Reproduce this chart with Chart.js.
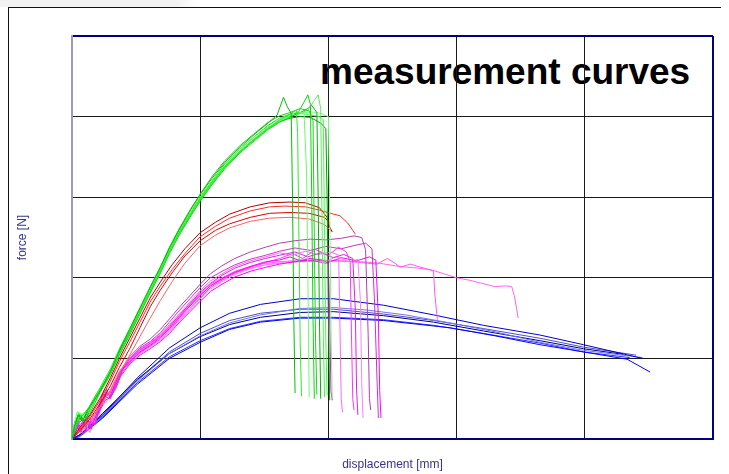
<!DOCTYPE html>
<html><head><meta charset="utf-8">
<script src="https://cdn.jsdelivr.net/npm/chart.js@4"></script>
<style>
html,body{margin:0;padding:0;background:#fff;}
#wrap{position:relative;width:729px;height:474px;overflow:hidden;background:#fff;}
#strip{position:absolute;left:0;top:0;width:200px;height:7px;background:linear-gradient(to right,#f2f2f2 88%,#fff);}
#frameTop{position:absolute;left:8px;top:7px;width:713px;height:1px;background:#111;}
#frameLeft{position:absolute;left:8px;top:7px;width:1px;height:467px;background:#111;}
#title{position:absolute;left:320px;top:53px;font:bold 37px "Liberation Sans",Arial,sans-serif;line-height:37px;color:#000;white-space:nowrap;}
canvas{position:absolute;left:0;top:0;}
</style></head>
<body>
<div id="wrap">
<div id="strip"></div>
<div id="frameTop"></div>
<div id="frameLeft"></div>
<div id="title">measurement curves</div>
<canvas id="c" width="729" height="474"></canvas>
</div>
<script>
// axis ranges / grid steps (no tick labels shown)
const xTicks = [0, 1, 2, 3, 4, 5];
const yTicks = [0, 100, 200, 300, 400, 500];
const xTitle = 'displacement [mm]';
const yTitle = 'force [N]';

// green series
const g1 = [[0,0],[0.02,16],[0.05,30],[0.08,22],[0.12,35],[0.22,60],[0.30,84],[0.37,110],[0.45,136],[0.53,162],[0.61,188],[0.69,213],[0.76,237],[0.84,261],[0.92,283],[1.00,303],[1.09,323],[1.19,343],[1.31,362],[1.43,379],[1.53,392],[1.60,402],[1.65,424],[1.68,412],[1.71,404],[1.72,300],[1.73,150],[1.74,57]];
const g2 = [[0,0],[0.03,22],[0.06,28],[0.09,30],[0.13,37],[0.22,62],[0.30,82],[0.37,106],[0.45,131],[0.53,157],[0.61,183],[0.69,208],[0.76,232],[0.84,256],[0.92,277],[1.00,297],[1.09,317],[1.19,337],[1.31,356],[1.43,372],[1.53,385],[1.62,396],[1.70,403],[1.75,408],[1.76,380],[1.77,250],[1.78,120],[1.79,53]];
const g3 = [[0,0],[0.02,20],[0.04,34],[0.09,28],[0.14,38],[0.22,63],[0.30,86],[0.37,111],[0.45,135],[0.53,160],[0.61,186],[0.69,211],[0.76,235],[0.84,259],[0.92,280],[1.00,300],[1.09,320],[1.19,340],[1.31,360],[1.43,376],[1.53,388],[1.62,398],[1.70,402],[1.76,406],[1.81,404],[1.83,330],[1.84,200],[1.85,52]];
const g4 = [[0,0],[0.03,14],[0.06,26],[0.10,24],[0.14,32],[0.22,58],[0.30,80],[0.37,104],[0.45,129],[0.53,155],[0.61,181],[0.69,206],[0.76,230],[0.84,254],[0.92,275],[1.00,295],[1.09,315],[1.19,335],[1.31,355],[1.43,371],[1.53,384],[1.62,393],[1.70,399],[1.76,404],[1.81,418],[1.84,427],[1.86,415],[1.87,300],[1.88,150],[1.89,50]];
const g5 = [[0,0],[0.02,18],[0.05,32],[0.08,28],[0.13,39],[0.22,64],[0.30,87],[0.37,112],[0.45,137],[0.53,163],[0.61,189],[0.69,214],[0.76,238],[0.84,262],[0.92,284],[1.00,304],[1.09,325],[1.19,345],[1.31,364],[1.43,380],[1.53,393],[1.62,401],[1.70,405],[1.78,410],[1.85,407],[1.88,395],[1.89,250],[1.90,120],[1.91,55]];
const g6 = [[0,0],[0.03,20],[0.05,27],[0.09,32],[0.13,34],[0.22,59],[0.30,81],[0.37,106],[0.45,130],[0.53,156],[0.61,182],[0.69,207],[0.76,231],[0.84,255],[0.92,276],[1.00,296],[1.09,316],[1.19,336],[1.31,356],[1.43,372],[1.53,385],[1.62,394],[1.70,400],[1.78,404],[1.84,408],[1.89,420],[1.92,427],[1.94,410],[1.95,280],[1.96,130],[1.97,52]];
const g7 = [[0,0],[0.02,15],[0.06,30],[0.10,22],[0.14,36],[0.22,61],[0.30,85],[0.37,109],[0.45,134],[0.53,160],[0.61,186],[0.69,211],[0.76,235],[0.84,259],[0.92,280],[1.00,300],[1.09,320],[1.19,341],[1.31,360],[1.43,376],[1.53,389],[1.62,398],[1.70,403],[1.78,405],[1.84,410],[1.87,414],[1.91,405],[1.92,300],[1.93,150],[1.94,50]];
const g8 = [[0,0],[0.03,18],[0.05,24],[0.09,30],[0.13,38],[0.22,62],[0.30,84],[0.37,107],[0.45,132],[0.53,158],[0.61,184],[0.69,209],[0.76,233],[0.84,257],[0.92,278],[1.00,298],[1.09,318],[1.19,338],[1.31,357],[1.43,373],[1.53,386],[1.62,395],[1.70,401],[1.78,404],[1.86,402],[1.93,400],[1.96,396],[1.97,250],[1.98,120],[1.99,54]];
const g9 = [[0,0],[0.02,21],[0.05,29],[0.09,25],[0.13,35],[0.22,60],[0.30,82],[0.37,107],[0.45,132],[0.53,158],[0.61,184],[0.69,209],[0.76,233],[0.84,257],[0.92,278],[1.00,298],[1.09,318],[1.19,338],[1.31,357],[1.43,373],[1.53,386],[1.62,394],[1.70,398],[1.78,400],[1.86,399],[1.94,392],[1.98,385],[1.99,300],[2.00,150],[2.01,48]];
const g10 = [[0,0],[0.03,16],[0.06,33],[0.10,27],[0.13,36],[0.22,61],[0.30,83],[0.37,108],[0.45,133],[0.53,159],[0.61,185],[0.69,210],[0.76,234],[0.84,258],[0.92,279],[1.00,299],[1.09,319],[1.19,339],[1.31,358],[1.43,374],[1.53,387],[1.62,396],[1.70,401],[1.78,404],[1.86,406],[1.94,404],[2.00,400],[2.01,290],[2.02,140],[2.03,50]];

// red series
const r1 = [[0,0],[0.06,14],[0.14,30],[0.22,51],[0.30,76],[0.37,100],[0.45,125],[0.53,150],[0.61,175],[0.69,195],[0.78,216],[0.88,236],[1.00,256],[1.12,269],[1.23,279],[1.39,288],[1.54,293],[1.70,294],[1.82,293],[1.93,287],[1.99,275],[2.01,263],[2.03,257]];
const r2 = [[0,0],[0.06,12],[0.14,28],[0.22,48],[0.30,72],[0.37,96],[0.45,120],[0.53,145],[0.61,170],[0.69,190],[0.78,210],[0.88,230],[1.00,251],[1.12,264],[1.23,274],[1.39,283],[1.54,288],[1.66,289],[1.82,288],[1.93,284],[2.04,279],[2.09,277],[2.15,268],[2.19,259],[2.21,254]];
const r3 = [[0,0],[0.06,10],[0.14,25],[0.22,44],[0.30,66],[0.37,89],[0.45,112],[0.53,138],[0.61,164],[0.69,185],[0.78,206],[0.88,227],[1.00,246],[1.12,259],[1.23,267],[1.39,275],[1.54,280],[1.70,281],[1.85,280],[1.97,275],[2.01,268]];
const r4 = [[0,0],[0.06,9],[0.14,22],[0.22,40],[0.30,60],[0.37,82],[0.45,104],[0.53,127],[0.61,150],[0.69,172],[0.78,195],[0.88,218],[1.00,240],[1.12,253],[1.23,262],[1.39,270],[1.54,274],[1.70,275],[1.85,273],[1.97,266],[2.03,257]];

// magenta series
const m1 = [[0,0],[0.03,18],[0.07,8],[0.11,28],[0.15,14],[0.20,34],[0.24,55],[0.29,50],[0.33,66],[0.37,82],[0.45,96],[0.53,108],[0.61,116],[0.69,126],[0.76,137],[0.84,151],[0.92,165],[1.00,178],[1.08,190],[1.17,199],[1.27,207],[1.39,214],[1.51,220],[1.62,222],[1.70,226],[1.78,221],[1.86,224],[1.95,222],[2.00,218],[2.01,150],[2.02,60],[2.03,48]];
const m2 = [[0,0],[0.04,24],[0.08,14],[0.12,30],[0.17,20],[0.21,40],[0.25,60],[0.30,56],[0.34,70],[0.38,86],[0.45,100],[0.53,112],[0.61,120],[0.69,130],[0.76,142],[0.84,156],[0.92,170],[1.00,184],[1.08,196],[1.17,205],[1.27,214],[1.39,221],[1.51,226],[1.62,231],[1.72,228],[1.82,233],[1.92,229],[2.02,232],[2.08,228],[2.09,140],[2.10,50],[2.11,33]];
const m3 = [[0,0],[0.05,15],[0.10,25],[0.15,12],[0.20,30],[0.25,50],[0.27,62],[0.30,50],[0.35,70],[0.40,88],[0.45,102],[0.53,115],[0.61,124],[0.69,136],[0.76,149],[0.84,164],[0.92,178],[1.00,192],[1.08,205],[1.17,215],[1.27,224],[1.39,232],[1.51,238],[1.62,243],[1.74,246],[1.86,248],[1.98,247],[2.10,249],[2.20,252],[2.26,250],[2.29,235],[2.31,130],[2.32,50],[2.33,36]];
const m4 = [[0,0],[0.03,12],[0.07,26],[0.12,10],[0.16,24],[0.21,30],[0.25,52],[0.30,60],[0.34,64],[0.38,80],[0.45,95],[0.53,107],[0.61,115],[0.69,124],[0.76,135],[0.84,149],[0.92,162],[1.00,175],[1.08,188],[1.17,197],[1.27,206],[1.39,213],[1.51,219],[1.62,224],[1.72,230],[1.80,224],[1.90,235],[2.00,228],[2.08,238],[2.14,232],[2.17,220],[2.18,130],[2.19,50],[2.20,36]];
const m5 = [[0,0],[0.04,20],[0.09,6],[0.13,22],[0.18,18],[0.22,44],[0.26,54],[0.31,58],[0.35,72],[0.39,88],[0.45,99],[0.53,111],[0.61,119],[0.69,129],[0.76,140],[0.84,154],[0.92,168],[1.00,182],[1.08,193],[1.17,203],[1.27,212],[1.39,219],[1.51,224],[1.62,228],[1.74,232],[1.84,226],[1.94,231],[2.04,225],[2.12,229],[2.19,224],[2.21,160],[2.22,60],[2.23,30]];
const m6 = [[0,0],[0.05,10],[0.09,22],[0.14,8],[0.18,28],[0.23,42],[0.27,46],[0.31,62],[0.36,78],[0.41,90],[0.45,94],[0.53,105],[0.61,113],[0.69,122],[0.76,133],[0.84,147],[0.92,160],[1.00,174],[1.08,186],[1.17,195],[1.27,204],[1.39,211],[1.51,216],[1.62,219],[1.74,222],[1.86,224],[1.96,219],[2.06,226],[2.16,220],[2.23,223],[2.25,170],[2.26,70],[2.27,26]];
const m7 = [[0,0],[0.03,16],[0.08,24],[0.12,14],[0.17,30],[0.21,38],[0.26,57],[0.31,55],[0.35,68],[0.39,84],[0.45,100],[0.53,113],[0.61,121],[0.69,132],[0.76,145],[0.84,160],[0.92,174],[1.00,188],[1.08,200],[1.17,208],[1.27,216],[1.39,223],[1.51,228],[1.62,233],[1.74,237],[1.86,234],[1.98,239],[2.10,236],[2.20,240],[2.29,243],[2.34,236],[2.36,170],[2.38,70],[2.39,26]];
const m8 = [[0,0],[0.04,14],[0.08,20],[0.13,12],[0.17,26],[0.22,36],[0.26,48],[0.30,52],[0.34,62],[0.38,78],[0.45,93],[0.53,104],[0.61,112],[0.69,121],[0.76,131],[0.84,145],[0.92,158],[1.00,171],[1.08,183],[1.17,192],[1.27,201],[1.39,208],[1.51,213],[1.62,217],[1.74,220],[1.86,222],[1.98,218],[2.10,225],[2.22,221],[2.32,226],[2.37,222],[2.39,150],[2.40,60],[2.41,26]];
const m9 = [[0,0],[0.04,22],[0.08,12],[0.12,24],[0.16,18],[0.20,38],[0.24,56],[0.28,54],[0.32,68],[0.37,84],[0.45,98],[0.53,110],[0.61,118],[0.69,128],[0.76,139],[0.84,153],[0.92,167],[1.00,180],[1.08,192],[1.17,200],[1.27,208],[1.39,214],[1.51,218],[1.62,220],[1.78,221],[1.95,222],[2.10,221],[2.25,219],[2.38,217],[2.46,224],[2.52,218],[2.56,213],[2.64,217],[2.70,214],[2.79,210],[2.82,208],[2.83,180],[2.85,148]];
const m10 = [[0,0],[0.05,18],[0.09,10],[0.13,26],[0.18,20],[0.22,40],[0.26,52],[0.30,58],[0.34,70],[0.38,84],[0.45,97],[0.53,109],[0.61,117],[0.69,127],[0.76,138],[0.84,152],[0.92,166],[1.00,179],[1.08,190],[1.17,198],[1.27,206],[1.39,212],[1.51,216],[1.62,218],[1.78,220],[2.01,221],[2.25,220],[2.40,218],[2.56,214],[2.70,212],[2.80,210],[2.92,204],[3.00,200],[3.10,197],[3.20,193],[3.30,189],[3.38,190],[3.43,189],[3.45,178],[3.47,160],[3.48,150]];

// blue series
const b1 = [[0,0],[0.06,5],[0.24,30],[0.51,76],[0.76,113],[1.00,138],[1.23,156],[1.47,167],[1.78,174],[2.04,174],[2.43,166],[2.82,154],[3.21,141],[3.65,129],[3.99,117],[4.45,100]];
const b2 = [[0,0],[0.06,4],[0.24,28],[0.51,72],[0.76,106],[1.00,128],[1.23,144],[1.47,154],[1.78,162],[2.04,163],[2.30,160],[2.60,154],[2.95,144],[3.30,133],[3.65,120],[3.99,110],[4.45,101]];
const b3 = [[0,0],[0.07,6],[0.24,32],[0.51,74],[0.76,106],[1.00,127],[1.23,142],[1.47,151],[1.78,157],[2.04,158],[2.43,153],[2.82,145],[3.21,134],[3.65,122],[3.99,112],[4.30,105]];
const b4 = [[0,0],[0.06,3],[0.24,26],[0.51,68],[0.76,100],[1.00,120],[1.23,136],[1.47,145],[1.78,150],[2.04,150],[2.43,147],[2.95,138],[3.30,128],[3.65,117],[3.99,108],[4.33,99],[4.51,83]];
const b5 = [[0,0],[0.05,4],[0.24,27],[0.51,70],[0.76,102],[1.00,122],[1.23,137],[1.47,146],[1.78,151],[2.04,151],[2.43,148],[2.82,141],[3.21,131],[3.65,119],[3.99,108],[4.35,101]];
const b6 = [[0,0],[0.06,5],[0.24,29],[0.51,73],[0.76,108],[1.00,131],[1.23,147],[1.47,156],[1.78,161],[2.04,161],[2.43,155],[2.82,147],[3.21,137],[3.65,125],[3.99,114],[4.40,104]];

const greens = [g1,g2,g3,g4,g5,g6,g7,g8,g9,g10];
const greenColors = ['#00c000','#33e633','#66ff66','#00dd00','#22cc22','#55ee55','#00b400','#40ff40','#009900','#7cfc7c'];
const reds = [r1,r2,r3,r4];
const redColors = ['#b40000','#ff2a2a','#e00000','#ff6060'];
const magentas = [m1,m2,m3,m4,m5,m6,m7,m8,m9,m10];
const magentaColors = ['#ff00ff','#ff66ff','#b040b0','#ff33ff','#e020e0','#ff80ff','#cc33cc','#ff00ff','#ff55ff','#ff66ee'];
const blues = [b1,b2,b3,b4,b5,b6];
const blueColors = ['#0000cc','#7070ff','#000080','#0000ff','#3030ff','#5050c0'];

const mk = (arr, color) => ({
  data: arr.map(p => ({x: p[0], y: p[1]})),
  borderColor: color, borderWidth: 1, pointRadius: 0, fill: false, tension: 0
});
const datasets = [];
greens.forEach((a,i) => datasets.push(mk(a, greenColors[i])));
reds.forEach((a,i) => datasets.push(mk(a, redColors[i])));
magentas.forEach((a,i) => datasets.push(mk(a, magentaColors[i])));
blues.forEach((a,i) => datasets.push(mk(a, blueColors[i])));

const font = {family: '"Liberation Sans", Arial, sans-serif', size: 12};
const last = xTicks.length - 1;

new Chart(document.getElementById('c'), {
  type: 'line',
  data: {datasets},
  options: {
    responsive: false, animation: false,
    layout: {padding: {left: 0, top: 36, right: 16, bottom: 0}},
    plugins: {legend: {display: false}, tooltip: {enabled: false}},
    scales: {
      x: {
        type: 'linear', min: xTicks[0], max: xTicks[last],
        afterBuildTicks: s => { s.ticks = xTicks.map(v => ({value: v})); },
        ticks: {display: false},
        grid: {drawTicks: false,
          color: c => c.index === 0 ? '#9999cc' : (c.index === last ? '#000080' : '#1a1a1a'),
          lineWidth: c => (c.index === 0 || c.index === last) ? 2 : 1},
        border: {display: true, color: '#000080', width: 2},
        title: {display: true, text: xTitle, color: '#333399', font, padding: {top: 0, bottom: 2.4}},
        afterFit: s => { s.height = 35; }
      },
      y: {
        type: 'linear', min: yTicks[0], max: yTicks[yTicks.length - 1],
        afterBuildTicks: s => { s.ticks = yTicks.map(v => ({value: v})); },
        ticks: {display: false},
        grid: {drawTicks: false,
          color: c => (c.index === 0 || c.index === yTicks.length - 1) ? '#000080' : '#1a1a1a',
          lineWidth: c => (c.index === 0 || c.index === yTicks.length - 1) ? 2 : 1},
        border: {display: true, color: '#9999cc', width: 2},
        title: {display: true, text: yTitle, color: '#333399', font, padding: {top: 15.4, bottom: 0}},
        afterFit: s => { s.width = 72; }
      }
    }
  }
});
</script>
</body></html>
